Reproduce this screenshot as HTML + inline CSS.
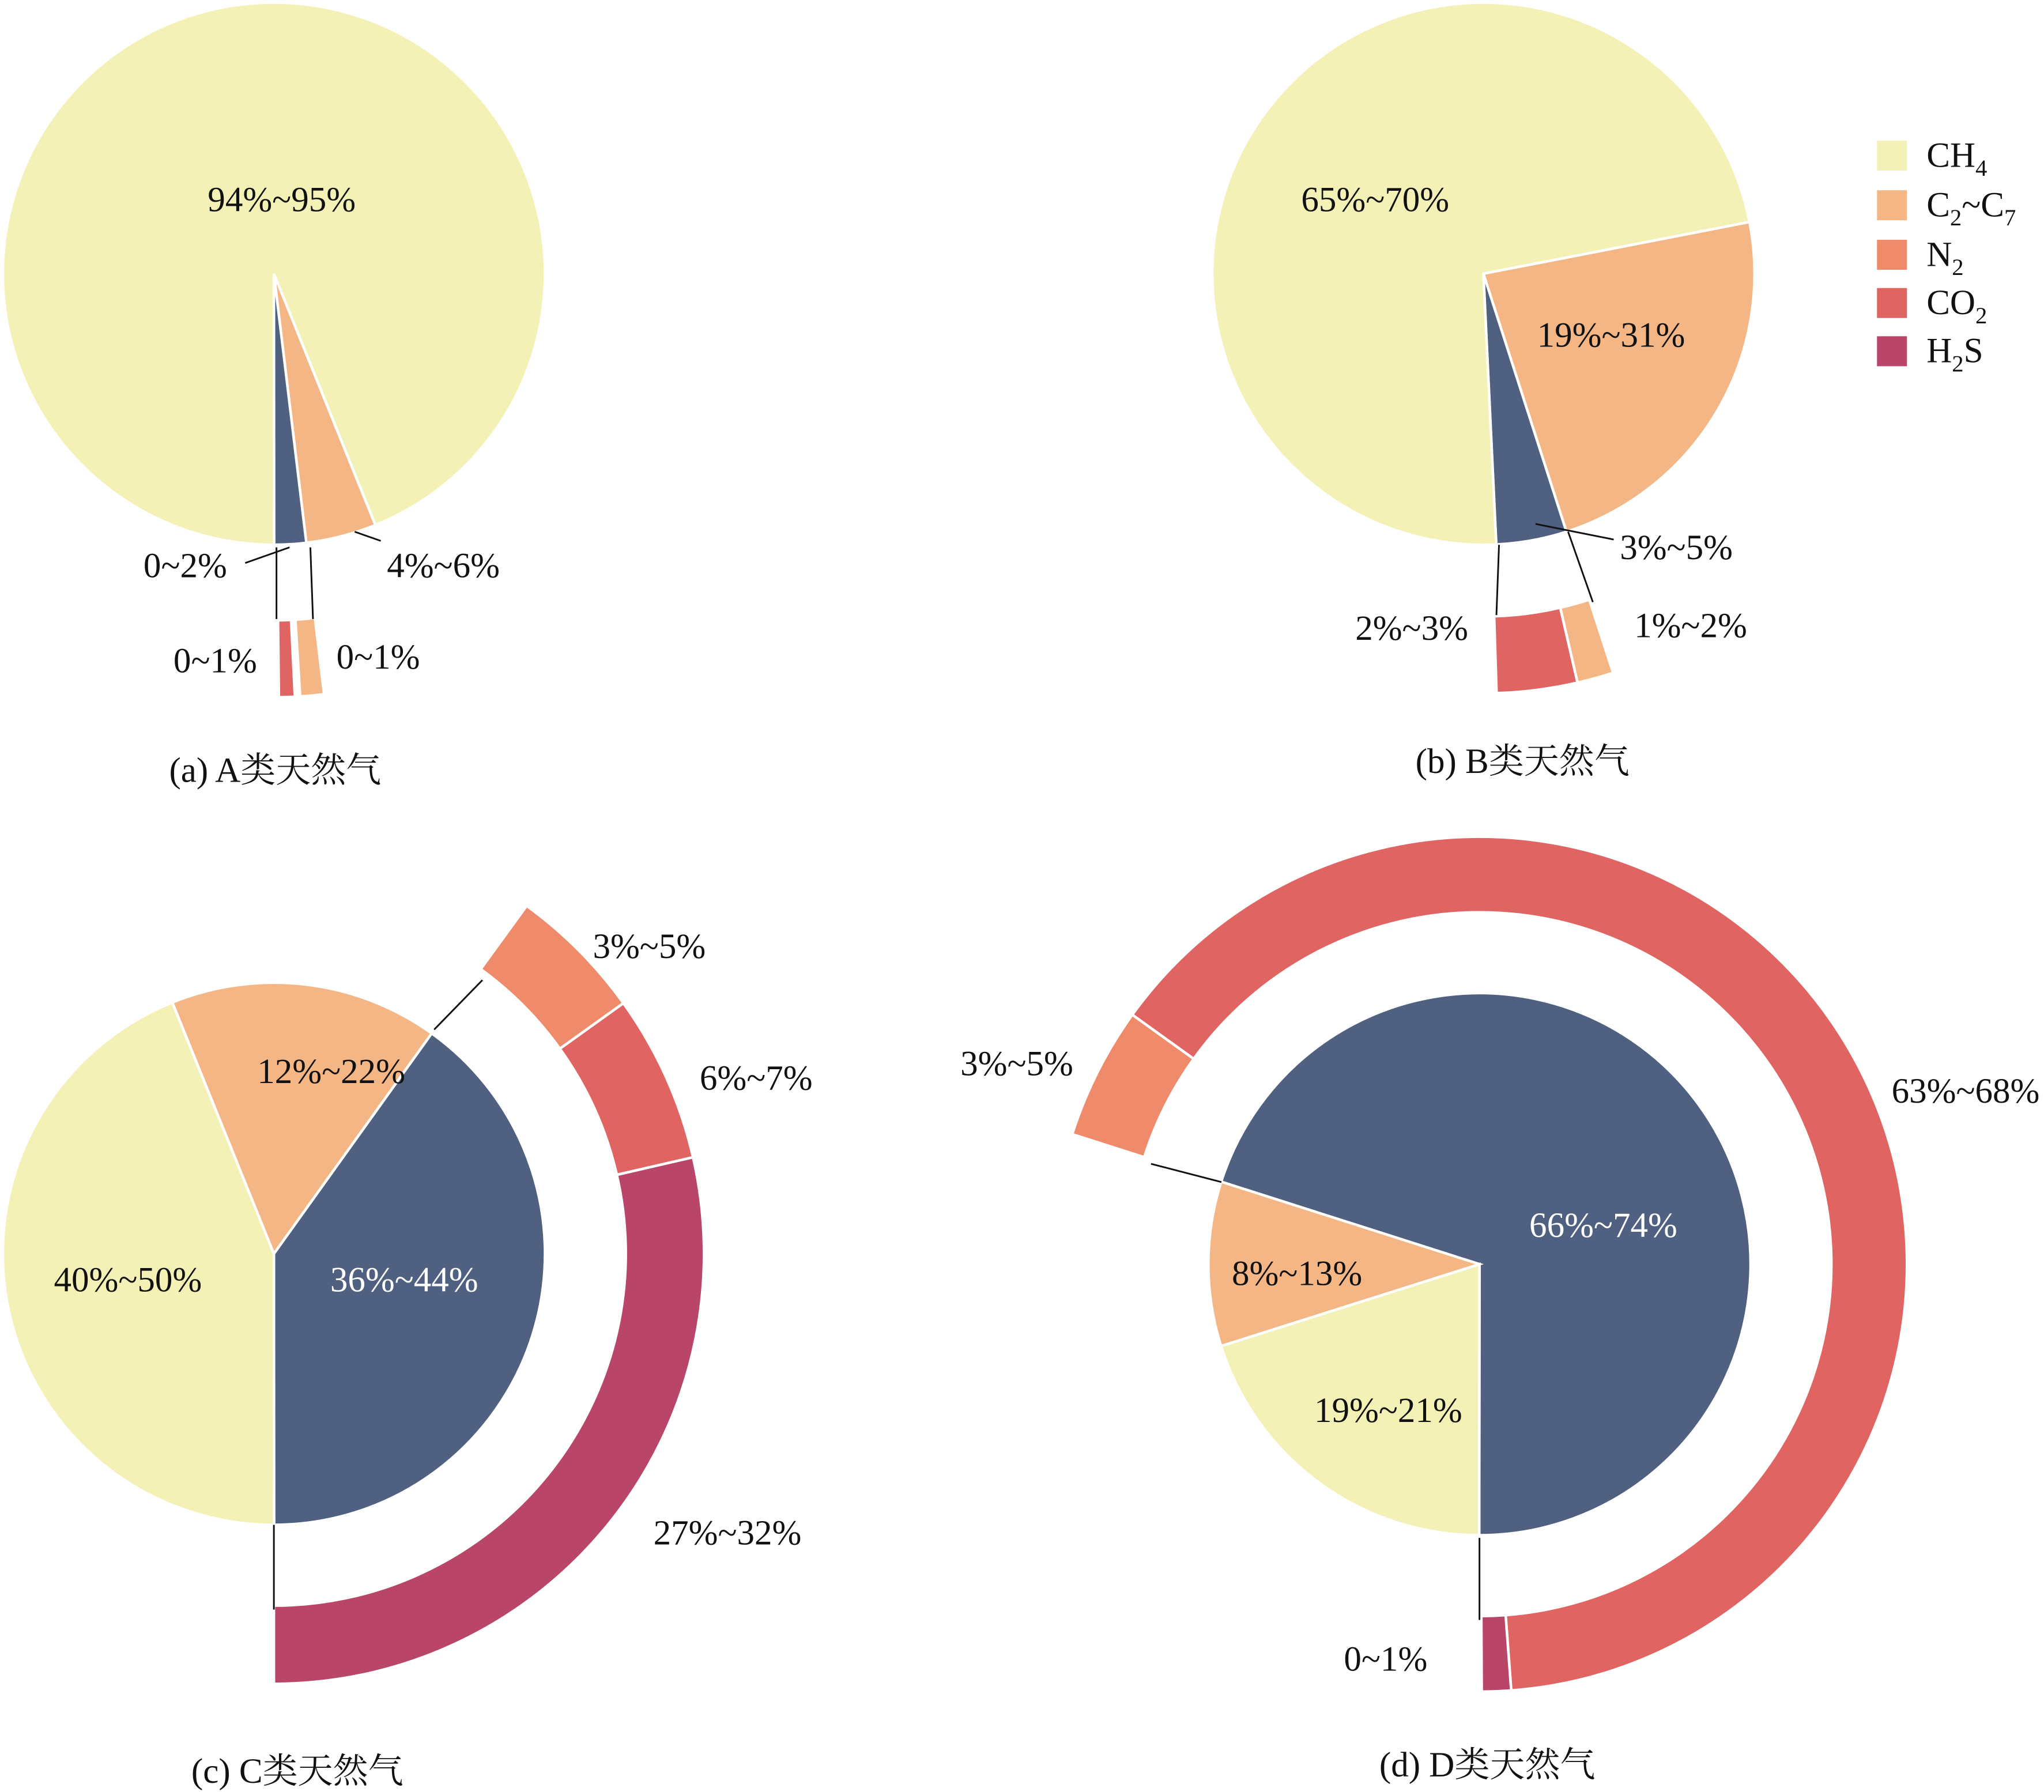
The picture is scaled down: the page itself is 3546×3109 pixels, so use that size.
<!DOCTYPE html>
<html><head><meta charset="utf-8"><style>
html,body{margin:0;padding:0;background:#fff;}
svg{display:block;}
text{font-family:"Liberation Serif","Noto Serif CJK SC","Noto Sans CJK SC",serif;font-size:27px;fill:#111;}
</style></head><body>
<svg id="chart" width="3546" height="3109" viewBox="0 0 1568 1375" xmlns="http://www.w3.org/2000/svg">
<g id="layer"></g>
<g>
<rect x="1440" y="108" width="23" height="23" fill="#f3f1b5"/>
<text x="1478" y="128">CH<tspan font-size="18" dy="7">4</tspan></text>
<rect x="1440" y="146" width="23" height="23" fill="#f4b684"/>
<text x="1478" y="166">C<tspan font-size="18" dy="7">2</tspan><tspan dy="-7">~C</tspan><tspan font-size="18" dy="7">7</tspan></text>
<rect x="1440" y="184" width="23" height="23" fill="#ef8a6a"/>
<text x="1478" y="204">N<tspan font-size="18" dy="7">2</tspan></text>
<rect x="1440" y="221" width="23" height="23" fill="#e06462"/>
<text x="1478" y="241">CO<tspan font-size="18" dy="7">2</tspan></text>
<rect x="1440" y="258" width="23" height="23" fill="#b94668"/>
<text x="1478" y="278">H<tspan font-size="18" dy="7">2</tspan><tspan dy="-7">S</tspan></text>
</g>
<g>
<text x="211" y="600" text-anchor="middle">(a) A类天然气</text>
<text x="1168" y="593" text-anchor="middle">(b) B类天然气</text>
<text x="228" y="1368" text-anchor="middle">(c) C类天然气</text>
<text x="1141" y="1363" text-anchor="middle">(d) D类天然气</text>
</g>
<g stroke="#111" stroke-width="1.3" fill="none">
<line x1="212" y1="420" x2="212" y2="475"/><line x1="238" y1="420" x2="240" y2="475"/>
<line x1="1150" y1="418" x2="1148" y2="472"/><line x1="1203" y1="408" x2="1222" y2="462"/>
<line x1="210" y1="1170" x2="210" y2="1235"/><line x1="333" y1="790" x2="370" y2="752"/>
<line x1="1135" y1="1180" x2="1135" y2="1243"/><line x1="937" y1="907" x2="883" y2="893"/>
<line x1="188" y1="432" x2="222" y2="420"/><line x1="272" y1="408" x2="292" y2="415"/>
<line x1="1178" y1="402" x2="1238" y2="414"/>
</g>
<g>
<text x="216" y="162" text-anchor="middle">94%~95%</text>
<text x="142" y="443" text-anchor="middle">0~2%</text>
<text x="340" y="443" text-anchor="middle">4%~6%</text>
<text x="165" y="516" text-anchor="middle">0~1%</text>
<text x="290" y="513" text-anchor="middle">0~1%</text>
<text x="1055" y="162" text-anchor="middle">65%~70%</text>
<text x="1236" y="266" text-anchor="middle">19%~31%</text>
<text x="1286" y="429" text-anchor="middle">3%~5%</text>
<text x="1083" y="491" text-anchor="middle">2%~3%</text>
<text x="1297" y="489" text-anchor="middle">1%~2%</text>
<text x="498" y="735" text-anchor="middle">3%~5%</text>
<text x="580" y="836" text-anchor="middle">6%~7%</text>
<text x="254" y="831" text-anchor="middle">12%~22%</text>
<text x="98" y="991" text-anchor="middle">40%~50%</text>
<text x="310" y="991" text-anchor="middle" style="fill:#fff">36%~44%</text>
<text x="558" y="1185" text-anchor="middle">27%~32%</text>
<text x="780" y="825" text-anchor="middle">3%~5%</text>
<text x="1508" y="846" text-anchor="middle">63%~68%</text>
<text x="1230" y="949" text-anchor="middle" style="fill:#fff">66%~74%</text>
<text x="995" y="986" text-anchor="middle">8%~13%</text>
<text x="1065" y="1091" text-anchor="middle">19%~21%</text>
<text x="1063" y="1282" text-anchor="middle">0~1%</text>
</g>
</svg>
<script>
const COLORS = {ch4:"#f3f1b5", c2c7:"#f4b684", n2:"#ef8a6a", co2:"#e06462", h2s:"#b94668", other:"#506080", gap:"none"};
// Pie slices (percent of circle), clockwise from start angle (deg, compass)
const pieAKeys = ["c2c7","other","ch4"];   const pieAValues = [4.2,1.9,93.9];
const pieBKeys = ["c2c7","other","ch4"];   const pieBValues = [23.1,4.2,72.7];
const pieCKeys = ["other","ch4","c2c7"];   const pieCValues = [40.1,43.9,16.0];
const pieDKeys = ["other","ch4","c2c7"];   const pieDValues = [70.1,20.1,9.8];
// Outer ring segments (percent of circle)
const ringAKeys = ["c2c7","gap","co2"];    const ringAValues = [0.9,0.2,0.6];
const ringBKeys = ["c2c7","co2"];          const ringBValues = [1.4,3.1];
const ringCKeys = ["n2","co2","h2s"];      const ringCValues = [5.1,6.3,28.6];
const ringDKeys = ["n2","co2","h2s"];      const ringDValues = [5.0,63.9,1.1];

const panels = [
 {n:"a",cx:210,cy:210,r:208,start:158,keys:pieAKeys,vals:pieAValues,rs:173.2,ri:266,ro:325,rk:ringAKeys,rv:ringAValues},
 {n:"b",cx:1138,cy:210,r:208,start:79,keys:pieBKeys,vals:pieBValues,rs:162,ri:263,ro:322,rk:ringBKeys,rv:ringBValues},
 {n:"c",cx:210,cy:962,r:208,start:35.6,keys:pieCKeys,vals:pieCValues,rs:36,ri:270,ro:330,rk:ringCKeys,rv:ringCValues},
 {n:"d",cx:1135,cy:970,r:208,start:287.7,keys:pieDKeys,vals:pieDValues,rs:287.7,ri:270,ro:328,rk:ringDKeys,rv:ringDValues}
];
const NS="http://www.w3.org/2000/svg";
const layer=document.getElementById("layer");
function pt(cx,cy,r,a){const t=a*Math.PI/180;return [cx+r*Math.sin(t),cy-r*Math.cos(t)];}
function wedge(cx,cy,r,a0,a1){const p0=pt(cx,cy,r,a0),p1=pt(cx,cy,r,a1);const lg=(a1-a0)>180?1:0;
 return `M${cx},${cy}L${p0[0]},${p0[1]}A${r},${r} 0 ${lg} 1 ${p1[0]},${p1[1]}Z`;}
function annulus(cx,cy,ri,ro,a0,a1){const p0=pt(cx,cy,ro,a0),p1=pt(cx,cy,ro,a1),q1=pt(cx,cy,ri,a1),q0=pt(cx,cy,ri,a0);const lg=(a1-a0)>180?1:0;
 return `M${p0[0]},${p0[1]}A${ro},${ro} 0 ${lg} 1 ${p1[0]},${p1[1]}L${q1[0]},${q1[1]}A${ri},${ri} 0 ${lg} 0 ${q0[0]},${q0[1]}Z`;}
panels.forEach(p=>{
 let a=p.start;
 p.vals.forEach((v,i)=>{const a1=a+v*3.6;
  const el=document.createElementNS(NS,"path");
  el.setAttribute("d",wedge(p.cx,p.cy,p.r,a,a1));
  el.setAttribute("fill",COLORS[p.keys[i]]);el.setAttribute("stroke","#fff");el.setAttribute("stroke-width","2");
  
  
  layer.appendChild(el);a=a1;});
 a=p.rs;
 p.rv.forEach((v,i)=>{const a1=a+v*3.6;
  if(p.rk[i]!=="gap"){
  const el=document.createElementNS(NS,"path");
  el.setAttribute("d",annulus(p.cx,p.cy,p.ri,p.ro,a,a1));
  el.setAttribute("fill",COLORS[p.rk[i]]);el.setAttribute("stroke","#fff");el.setAttribute("stroke-width","2");
  
  
  layer.appendChild(el);}
  a=a1;});
});
</script>
</body></html>
